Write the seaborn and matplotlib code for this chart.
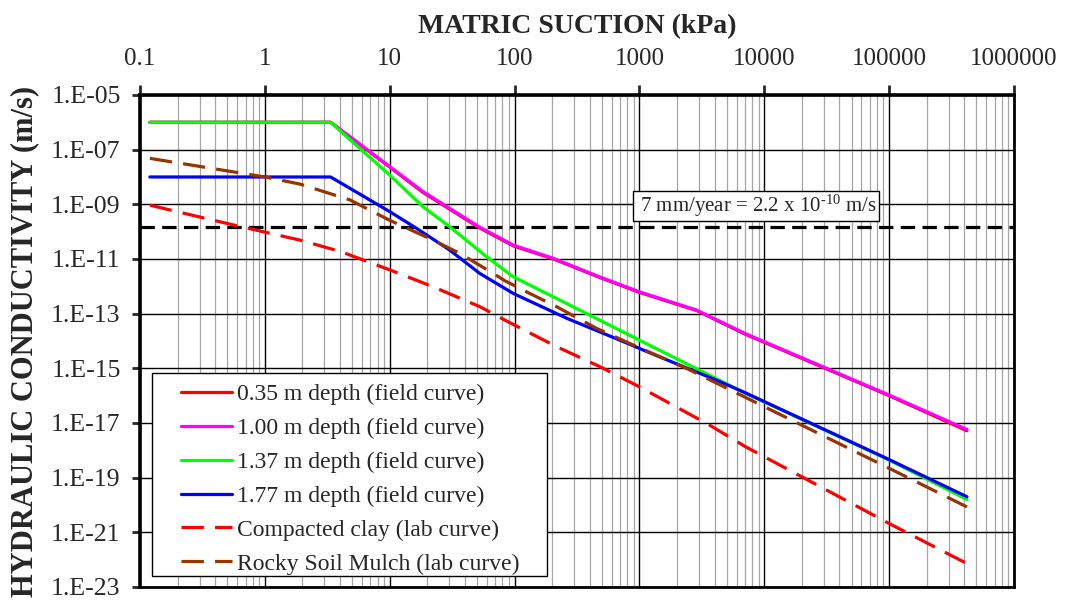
import matplotlib
matplotlib.use('Agg')
import matplotlib.pyplot as plt
import seaborn as sns
from matplotlib.patches import Rectangle
from matplotlib.ticker import LogLocator, NullLocator, NullFormatter

# values (suction in kPa, conductivity in m/s)
suction_100 = [0.12, 3.36, 10, 18.5, 52, 98, 205, 482, 1000, 2870, 6980, 1e5, 4.2e5]
k_100 = [1.0e-6, 1.0e-6, 2.4e-8, 2.9e-9, 1.5e-10, 3.2e-11, 1.05e-11, 2.2e-12,
         6.3e-13, 1.35e-13, 1.9e-14, 1.05e-16, 5.8e-18]
suction_035 = [0.12, 3.36, 10, 18.5, 52, 98, 205, 482, 1000, 2870, 6980, 1e5, 4.2e5]
k_035 = [1.0e-6, 1.0e-6, 2.3e-8, 2.7e-9, 1.4e-10, 3.0e-11, 1.0e-11, 2.1e-12,
         6.0e-13, 1.3e-13, 1.8e-14, 1.0e-16, 5.2e-18]
suction_137 = [0.12, 3.36, 10, 18.5, 30.3, 59.7, 97.5, 354, 1000, 6980, 1e5, 4.2e5]
k_137 = [1.0e-6, 1.0e-6, 1.17e-8, 8.1e-10, 1.5e-10, 1.2e-11, 2.24e-12, 1.17e-13,
         1.07e-14, 1.26e-16, 4.4e-19, 1.6e-20]
suction_177 = [0.12, 3.36, 10, 16.4, 30.3, 52.7, 97.5, 261, 697, 1456, 4140, 6980, 1e5, 4.2e5]
k_177 = [1.0e-8, 1.0e-8, 5.4e-10, 1.32e-10, 2.1e-11, 2.95e-12, 5.5e-13, 6.8e-14,
         1.07e-14, 2.6e-15, 3.7e-16, 1.3e-16, 4.6e-19, 2.0e-20]
suction_clay = [0.12, 0.52, 1.91, 4.0, 10, 22.4, 52.7, 89, 217, 482, 1000, 3660, 6980, 1e5, 4.2e5]
k_clay = [9.3e-10, 1.9e-10, 4.9e-11, 1.9e-11, 4.0e-12, 9.5e-13, 1.8e-13, 5.0e-14,
          6.2e-15, 1.15e-15, 2.1e-16, 8.3e-18, 1.4e-18, 2.1e-21, 7.2e-23]
suction_mulch = [0.12, 1.0, 1.91, 4.8, 10, 20.9, 36.5, 67.5, 83.6, 132, 217, 453, 892,
                 2380, 6980, 1e5, 4.2e5]
k_mulch = [4.8e-8, 1.0e-8, 5.5e-9, 1.45e-9, 2.6e-10, 5.6e-11, 1.6e-11, 2.95e-12,
           1.6e-12, 5.5e-13, 1.8e-13, 2.9e-14, 7.1e-15, 1.0e-15, 8.9e-17, 2.2e-19, 8.5e-21]

limit_k = 1.5e-10
limit_text = ' 7 mm/year = 2.2 x 10$^{\u201010}$ m/s '

x_ticks = [0.1, 1, 10, 100, 1000, 10000, 100000, 1000000]
x_tick_labels = ['0.1', '1', '10', '100', '1000', '10000', '100000', '1000000']
y_ticks = [1e-5, 1e-7, 1e-9, 1e-11, 1e-13, 1e-15, 1e-17, 1e-19, 1e-21, 1e-23]
y_tick_labels = ['1.E-05', '1.E-07', '1.E-09', '1.E-11', '1.E-13', '1.E-15',
                 '1.E-17', '1.E-19', '1.E-21', '1.E-23']

series = [
    ('0.35 m depth (field curve)', suction_035, k_035, '#FF0000', False),
    ('1.00 m depth (field curve)', suction_100, k_100, '#FF00FF', False),
    ('1.37 m depth (field curve)', suction_137, k_137, '#00FF00', False),
    ('1.77 m depth (field curve)', suction_177, k_177, '#0000FF', False),
    ('Compacted clay (lab curve)', suction_clay, k_clay, '#FF0000', True),
    ('Rocky Soil Mulch (lab curve)', suction_mulch, k_mulch, '#993300', True),
]

sns.set_style('white')
plt.rcParams['font.family'] = ['Liberation Serif', 'DejaVu Serif']
plt.rcParams['mathtext.default'] = 'regular'

fig = plt.figure(figsize=(10.68, 6.0), dpi=100)
ax = fig.add_axes([0.1311, 0.0217, 0.8183, 0.82])
ax.set_xscale('log')
ax.set_yscale('log')

for name, xs, ys, col, dashed in series:
    sns.lineplot(x=xs, y=ys, ax=ax, color=col, lw=2.3, label=name,
                 estimator=None, sort=False)
    if dashed:
        ax.lines[-1].set_dashes((7, 3.5))

ax.axhline(limit_k, color='black', lw=2.3, dashes=(4.5, 2.3), zorder=1.5)
ax.text(0.7048, 0.7738, limit_text, transform=ax.transAxes, fontsize=15,
        ha='center', va='center', zorder=4,
        bbox=dict(boxstyle='square,pad=0.1', fc='white', ec='black', lw=1))

ax.set_xlim(0.1, 1e6)
ax.set_ylim(1e-23, 1e-5)

ax.set_xticks(x_ticks)
ax.set_xticklabels(x_tick_labels)
ax.xaxis.set_minor_locator(LogLocator(base=10, subs=range(2, 10), numticks=20))
ax.xaxis.set_minor_formatter(NullFormatter())
ax.set_yticks(y_ticks)
ax.set_yticklabels(y_tick_labels)
ax.yaxis.set_minor_locator(NullLocator())

ax.xaxis.set_label_position('top')
ax.tick_params(axis='x', which='major', top=True, bottom=False, labeltop=True,
               labelbottom=False, direction='out', length=7, width=2,
               labelsize=18, pad=11)
ax.tick_params(axis='x', which='minor', top=False, bottom=False, length=0)
ax.tick_params(axis='y', which='major', left=True, direction='out', length=6,
               width=2, labelsize=18.5, pad=8)

ax.set_axisbelow(True)
ax.grid(which='major', axis='x', color='black', lw=1)
ax.grid(which='minor', axis='x', color='#a6a6a6', lw=0.9)
ax.grid(which='major', axis='y', color='black', lw=1)

for side in ['left', 'top']:
    ax.spines[side].set_linewidth(2.6)
for side in ['right', 'bottom']:
    ax.spines[side].set_linewidth(2)
for side in ax.spines:
    ax.spines[side].set_color('black')

ax.set_xlabel('MATRIC SUCTION (kPa)', fontsize=20, fontweight='bold', labelpad=11)
ax.set_ylabel('HYDRAULIC CONDUCTIVITY (m/s)', fontsize=22, fontweight='bold')
ax.yaxis.set_label_coords(-0.115, 0.5)

# legend box drawn separately: wide side padding, tight top/bottom
ax.add_patch(Rectangle((0.0137, 0.0224), 0.4516, 0.412, transform=ax.transAxes,
                       fc='white', ec='black', lw=1, zorder=4.5))
leg = ax.legend(loc='upper left', bbox_to_anchor=(0.0466, 0.4135), borderaxespad=0,
                fontsize=17, frameon=False, handlelength=2.16, handletextpad=0.21,
                labelspacing=0.525, borderpad=0)
leg.set_zorder(5)

fig.savefig('out.png', dpi=100)
